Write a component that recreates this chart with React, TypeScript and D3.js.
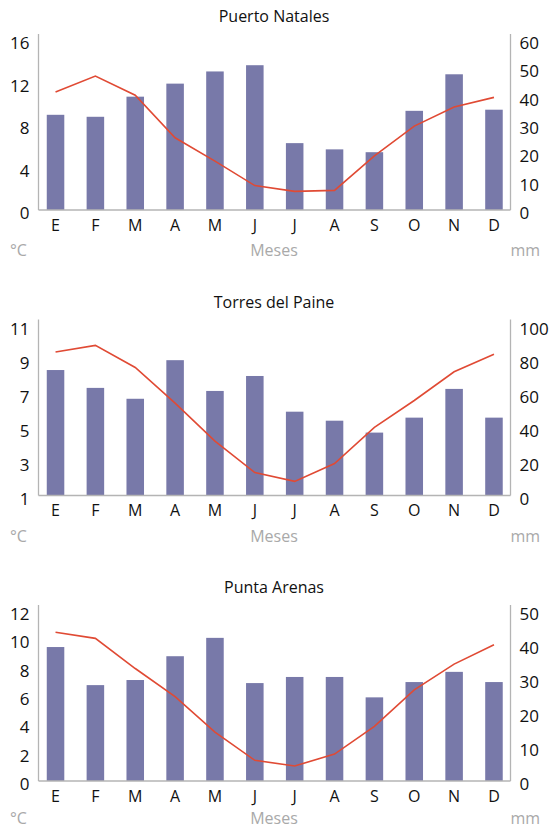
import React from 'react'
import * as d3 from 'd3'

const W = 549
const H = 828

const months = ['E', 'F', 'M', 'A', 'M', 'J', 'J', 'A', 'S', 'O', 'N', 'D']
const stationNames = ['Puerto Natales', 'Torres del Paine', 'Punta Arenas']

// temperatura (°C, eje izquierdo) y precipitación (mm, eje derecho)
const natalesTemp = [11.1, 12.6, 10.8, 6.8, 4.6, 2.3, 1.75, 1.85, 5.1, 7.9, 9.7, 10.6]
const natalesRain = [33.6, 32.9, 40, 44.6, 48.9, 51.1, 23.6, 21.4, 20.4, 35, 47.9, 35.4]
const torresTemp = [9.44, 9.83, 8.53, 6.43, 4.2, 2.35, 1.83, 2.88, 5.01, 6.59, 8.28, 9.31]
const torresRain = [73.8, 63.3, 56.9, 79.6, 61.5, 70.3, 49.3, 44, 37, 45.8, 62.7, 45.8]
const puntaTemp = [10.5, 10.07, 7.94, 5.95, 3.45, 1.46, 1.06, 1.9, 3.86, 6.43, 8.25, 9.62]
const puntaRain = [39.4, 28.2, 29.7, 36.7, 42.1, 28.8, 30.6, 30.6, 24.6, 29.1, 32.1, 29.1]

const natalesTempTicks = [0, 4, 8, 12, 16]
const natalesRainTicks = [0, 10, 20, 30, 40, 50, 60]
const torresTempTicks = [1, 3, 5, 7, 9, 11]
const torresRainTicks = [0, 20, 40, 60, 80, 100]
const puntaTempTicks = [0, 2, 4, 6, 8, 10, 12]
const puntaRainTicks = [0, 10, 20, 30, 40, 50]

const temps = [natalesTemp, torresTemp, puntaTemp]
const rains = [natalesRain, torresRain, puntaRain]
const tempTicks = [natalesTempTicks, torresTempTicks, puntaTempTicks]
const rainTicks = [natalesRainTicks, torresRainTicks, puntaRainTicks]

const FONT = '"Open Sans", sans-serif'
const BAR = '#7879a9'
const LINE = '#e04a34'
const AXIS = '#b4b4b4'
const MUTED = '#a9a9a9'
const INK = '#111'

const axisLeft = 38.5
const axisRight = 510.5
const panelGap = 285.5

const x = d3.scaleBand<number>()
  .domain(d3.range(12))
  .range([35.6, 513.9])
  .paddingInner(0.56)
  .paddingOuter(0.28)

const Panel: React.FC<{ i: number }> = ({ i }) => {
  const off = i * panelGap
  const base = 210 + off
  const top = 40 + off
  const tt = tempTicks[i]
  const rt = rainTicks[i]
  const yT = d3.scaleLinear().domain([tt[0], tt[tt.length - 1]]).range([base, top])
  const yR = d3.scaleLinear().domain([rt[0], rt[rt.length - 1]]).range([base, top])
  const cx = (j: number) => (x(j) || 0) + x.bandwidth() / 2
  // la última fila de rótulos queda pegada al borde inferior
  const unitY = Math.min(250 + off, 818)

  const line = d3.line<number>()
    .x((_, j) => cx(j))
    .y(d => yT(d))

  return (
    <g>
      <text x={274} y={16 + off} textAnchor="middle" dominantBaseline="central"
        fontSize={16} fill={INK}>{stationNames[i]}</text>

      {rains[i].map((v, j) => (
        <rect key={j} x={x(j)} y={yR(v)} width={x.bandwidth()} height={base - yR(v)} fill={BAR} />
      ))}

      <path d={line(temps[i]) || ''} fill="none" stroke={LINE} strokeWidth={1.6} />

      <line x1={axisLeft} x2={axisLeft} y1={34 + off} y2={base} stroke={AXIS} strokeWidth={1.3} />
      <line x1={axisRight} x2={axisRight} y1={34 + off} y2={base} stroke={AXIS} strokeWidth={1.3} />
      <line x1={axisLeft} x2={axisRight} y1={base} y2={base} stroke={AXIS} strokeWidth={1.3} />

      {tt.map(t => (
        <text key={'l' + t} x={29.5} y={yT(t) + 2.5} textAnchor="end" dominantBaseline="central"
          fontSize={17} fill={INK}>{t}</text>
      ))}
      {rt.map(t => (
        <text key={'r' + t} x={519.5} y={yR(t) + 2.5} textAnchor="start" dominantBaseline="central"
          fontSize={17} fill={INK}>{t}</text>
      ))}

      {months.map((m, j) => (
        <text key={'m' + j} x={cx(j)} y={224.5 + off} textAnchor="middle" dominantBaseline="central"
          fontSize={16} fill={INK}>{m}</text>
      ))}

      <text x={10} y={unitY} dominantBaseline="central" fontSize={16} fill={MUTED}>°C</text>
      <text x={274} y={unitY} textAnchor="middle" dominantBaseline="central" fontSize={16} fill={MUTED}>Meses</text>
      <text x={540} y={unitY} textAnchor="end" dominantBaseline="central" fontSize={16} fill={MUTED}>mm</text>
    </g>
  )
}

export default function App() {
  return (
    <svg width={W} height={H} style={{ position: 'absolute', left: 0, top: 0, background: '#fff' }}
      fontFamily={FONT}>
      {[0, 1, 2].map(i => <Panel key={i} i={i} />)}
    </svg>
  )
}
